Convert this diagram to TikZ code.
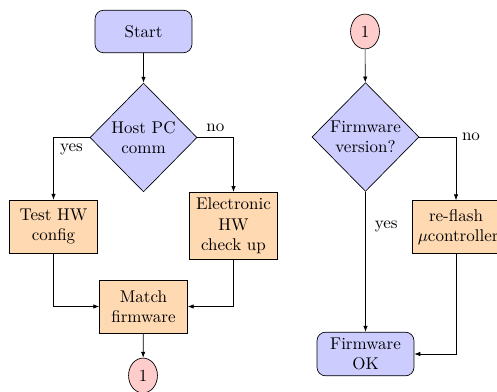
\documentclass[tikz,border=0pt]{standalone}
\usetikzlibrary{shapes.geometric,arrows.meta}
\begin{document}
\begin{tikzpicture}[x=0.5882pt,y=-0.5882pt,
  term/.style={draw, rounded corners=5pt, fill=blue!20, text width=4.5em, align=center, minimum width=57pt, minimum height=25pt, inner sep=3.33pt},
  decis/.style={draw, diamond, fill=blue!20, text width=4.5em, align=center, inner sep=-1pt, minimum width=63pt, minimum height=64pt},
  proc/.style={draw, fill=orange!30, text width=4.5em, align=center, minimum height=31pt, inner sep=3.33pt},
  conn/.style={draw, ellipse, fill=red!20, minimum width=17pt, minimum height=20.5pt, inner sep=0pt},
  arr/.style={-{Latex[length=3.5pt,width=2.6pt]}}]
\useasboundingbox (0,0) rectangle (497,392);
\node[term] (start) at (143.5,31.5) {Start};
\node[decis] (host) at (143.5,137.5) {Host PC comm};
\node[proc] (test) at (53.5,226.5) {Test HW config};
\node[proc] (elec) at (233.5,226) {Electronic HW check up};
\node[proc] (match) at (143.5,306.5) {Match firmware};
\node[conn] (c1) at (143,375.5) {1};
\node[conn] (c2) at (365,31.5) {1};
\node[decis] (fw) at (365.5,137) {Firmware version?};
\node[proc] (reflash) at (456,227) {re-flash $\mu$controller};
\node[term] (ok) at (365.5,354) {Firmware OK};

\draw[arr] (start) -- (host);
\draw[arr] (host.west) -| node[pos=0.25, below] {yes} (test.north);
\draw[arr] (host.east) -| node[pos=0.25, above] {no} (elec.north);
\draw[arr] (test.south) |- (match.west);
\draw[arr] (elec.south) |- (match.east);
\draw[arr] (match) -- (c1);
\draw[arr] (c2) -- (fw);
\draw[arr] (fw.east) -| node[pos=0.5, anchor=west] {no} (reflash.north);
\draw[arr] (fw.south) -- node[pos=0.25, anchor=west, xshift=2pt] {yes} (ok.north);
\draw[arr] (reflash.south) |- (ok.east);
\end{tikzpicture}
\end{document}
